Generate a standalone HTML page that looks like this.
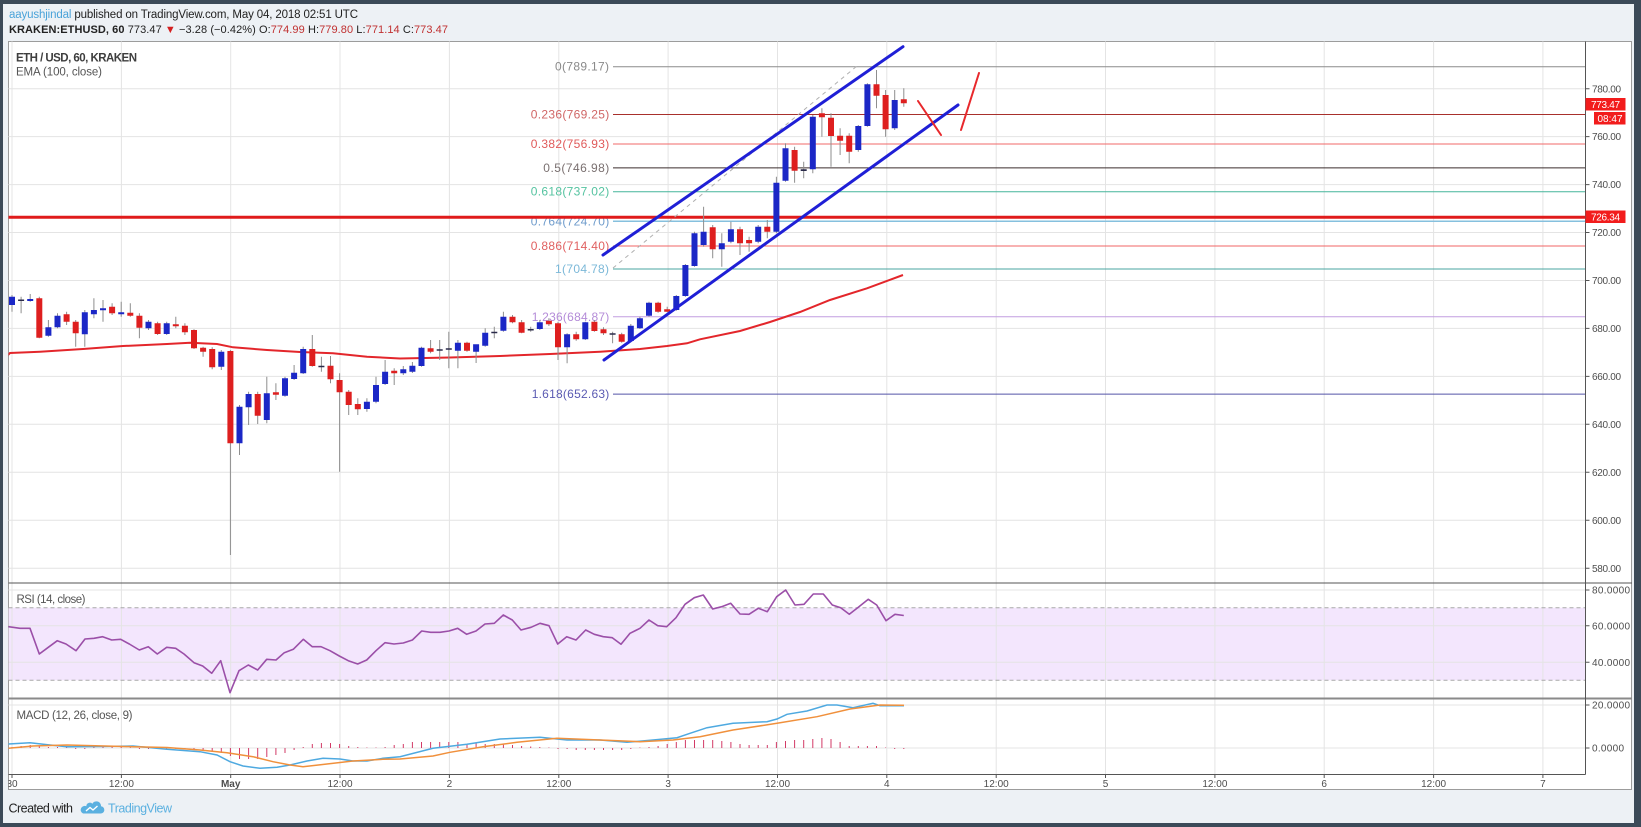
<!DOCTYPE html>
<html><head><meta charset="utf-8"><style>
html,body{margin:0;padding:0;background:#3c4a58;}
svg{display:block;}
text{font-family:"Liberation Sans","DejaVu Sans",sans-serif;}
</style></head><body>
<svg width="1641" height="827" viewBox="0 0 1641 827" xmlns="http://www.w3.org/2000/svg">
<defs>
<clipPath id="plot"><rect x="8.5" y="41.5" width="1576" height="541"/></clipPath>
<clipPath id="all"><rect x="8.5" y="41.5" width="1576" height="733"/></clipPath>
<clipPath id="taxis"><rect x="8.5" y="774" width="1576" height="16"/></clipPath>
</defs>
<rect x="0" y="0" width="1641" height="827" fill="#3c4a58"/>
<rect x="3" y="4" width="1631" height="819" fill="#edf1f5"/>
<rect x="8.5" y="41.5" width="1623" height="748" fill="#fff" stroke="#9c9c9c" stroke-width="1"/>

<!-- header -->
<text x="9" y="18" font-size="11.5" textLength="349" lengthAdjust="spacing"><tspan fill="#4ba3d9">aayushjindal</tspan><tspan fill="#222"> published on TradingView.com, May 04, 2018 02:51 UTC</tspan></text>
<text x="9" y="33" font-size="11" fill="#222" textLength="439" lengthAdjust="spacing"><tspan font-weight="bold">KRAKEN:ETHUSD, 60</tspan> 773.47 <tspan fill="#d42020">▼</tspan> −3.28 (−0.42%) O:<tspan fill="#c03030">774.99</tspan> H:<tspan fill="#c03030">779.80</tspan> L:<tspan fill="#c03030">771.14</tspan> C:<tspan fill="#c03030">773.47</tspan></text>

<!-- RSI band -->
<rect x="8.5" y="607.7" width="1576.5" height="72.6" fill="#f3e6fd"/>

<!-- vertical grid -->
<g stroke="#e4e4e4" stroke-width="1">
<path d="M12 41.5V774M121.4 41.5V774M230.7 41.5V774M340 41.5V774M449.4 41.5V774M558.8 41.5V774M668.1 41.5V774M777.5 41.5V774M886.8 41.5V774M996.2 41.5V774M1105.5 41.5V774M1214.9 41.5V774M1324.2 41.5V774M1433.6 41.5V774M1542.9 41.5V774"/>
<path d="M8.5 88.7H1585M8.5 136.6H1585M8.5 184.6H1585M8.5 232.5H1585M8.5 280.5H1585M8.5 328.4H1585M8.5 376.4H1585M8.5 424.3H1585M8.5 472.3H1585M8.5 520.2H1585M8.5 568.2H1585"/>
<path d="M8.5 590H1585M8.5 625.7H1585M8.5 662.3H1585M8.5 705H1585M8.5 748H1585"/>
</g>
<g stroke="#a8a8a8" stroke-width="1" stroke-dasharray="4 3">
<path d="M8.5 607.7H1585M8.5 680.3H1585"/>
</g>

<!-- fib lines -->
<g stroke-width="1">
<path d="M613 66.7H1585" stroke="#8c8c8c"/>
<path d="M613 114.5H1585" stroke="#a8302c"/>
<path d="M613 144H1585" stroke="#f26a6a"/>
<path d="M613 167.9H1585" stroke="#3b2d2d"/>
<path d="M613 191.7H1585" stroke="#46b59b"/>
<path d="M613 221.3H1585" stroke="#86c0de" stroke-width="1.5"/>
<path d="M613 246H1585" stroke="#f26464"/>
<path d="M613 269H1585" stroke="#4aa6a0"/>
<path d="M613 316.8H1585" stroke="#c29ee0"/>
<path d="M613 394.1H1585" stroke="#5353a8"/>
</g>
<g font-size="12">
<text x="555" y="70.7" fill="#8a8a8a" textLength="54" lengthAdjust="spacing">0(789.17)</text>
<text x="530.7" y="118.5" fill="#d06666" textLength="78.6" lengthAdjust="spacing">0.236(769.25)</text>
<text x="530.7" y="148" fill="#e05a5a" textLength="78.6" lengthAdjust="spacing">0.382(756.93)</text>
<text x="543.3" y="171.9" fill="#7a7070" textLength="66" lengthAdjust="spacing">0.5(746.98)</text>
<text x="530.7" y="195.7" fill="#55c3a0" textLength="78.6" lengthAdjust="spacing">0.618(737.02)</text>
<text x="530.7" y="225.3" fill="#6f9ccc" textLength="78.6" lengthAdjust="spacing">0.764(724.70)</text>
<text x="530.7" y="250" fill="#e06060" textLength="78.6" lengthAdjust="spacing">0.886(714.40)</text>
<text x="555" y="273" fill="#7bb8d8" textLength="54" lengthAdjust="spacing">1(704.78)</text>
<text x="531.7" y="320.8" fill="#b48bd8" textLength="77.6" lengthAdjust="spacing">1.236(684.87)</text>
<text x="531.7" y="398.1" fill="#5a5ab2" textLength="77.6" lengthAdjust="spacing">1.618(652.63)</text>
</g>

<!-- horizontal red support -->
<path d="M8.5 217.3H1585" stroke="#e01b1b" stroke-width="3"/>

<!-- dashed fib trend -->
<path d="M613 268L857 66" stroke="#b0b0b0" stroke-width="1" stroke-dasharray="4 4" fill="none"/>

<g clip-path="url(#plot)">
<polyline fill="none" stroke="#e3262b" stroke-width="2" points="8,355 10,353 40,351.7 83,349 123,346 167,344 190,342.7 217,344 233,347.3 267,350 300,352 333,353.3 367,356.7 400,358.5 450,357.5 500,356 550,354 600,351.7 640,349 667,346 687,343.3 700,339.3 740,331 770,322 800,312 830,300 867,288.3 903,275"/>
<path fill="none" stroke="#8e8e8e" stroke-width="1" d="M12 295V311.7M21.1 296.7V313.3M30.2 294V301.7M39.3 296.7V338.3M48.4 320V336.7M57.5 313.3V328.3M66.6 311.7V325M75.7 320V346.7M84.8 310V346.7M93.9 298.3V318.3M103 300V321.7M112.1 303.3V315M121.2 301.7V316.7M130.3 303.3V316.7M139.4 313.3V338.3M148.5 320V330M157.6 321.7V335M166.7 321.7V335M175.8 316.7V328.3M184.9 323.3V335M194 329.3V349M203.1 346.7V356.7M212.2 347.3V369.3M221.3 350V370M230.4 350V555M239.5 405V455M248.6 391.7V425M257.7 391.7V424M266.8 376.7V423.3M275.9 383.3V400M285 376.7V396.7M294.1 365V380M303.2 346.7V374M312.3 335V366.7M321.4 356.7V371.7M330.5 356V383.3M339.6 373.3V471.7M348.7 390V415M357.8 398.3V415M366.9 398.3V411.7M376 376.7V403.3M385.1 360V385M394.2 368.3V385M403.3 366V375M412.4 362V373M421.5 346.7V366.7M430.6 340V353.3M439.7 340V360M448.8 331.7V368.3M457.9 340V368.3M467 341.7V351.7M476.1 345V363M485.2 328.3V346.7M494.3 326.7V338.3M503.4 311.7V331.7M512.5 315V323.3M521.6 320V333.3M530.7 326.7V331.7M539.8 320V330M548.9 318.3V326M558 321.7V360M567.1 333.3V363.3M576.2 331.7V340.7M585.3 321.7V340M594.4 320V331.7M603.5 327.3V335M612.6 331.7V343.3M621.7 332.7V342.7M630.8 324V341.7M639.9 316.7V329M649 301.7V316.7M658.1 301.7V312.7M667.2 306.7V312.3M676.3 295V310.7M685.4 264V296.7M694.5 231.7V266.7M703.6 206.7V246.7M712.7 225V258.3M721.8 233.3V266.7M730.9 221.7V243.3M740 226.7V255M749.1 236.7V251.7M758.2 225V243.3M767.3 220V238.3M776.4 176.7V233.3M785.5 143.3V181.7M794.6 146.7V182.7M803.7 161.7V178.3M812.8 115V173.3M821.9 108.3V136.7M831 113.3V166.7M840.1 128.3V155M849.2 133.3V163.3M858.3 125V151.7M867.4 83.3V126.7M876.5 70V108.3M885.6 90V136.7M894.7 90V130M903.8 88.3V106.7"/>
<path fill="#de1f1f" d="M36.3 298.3h6v39.4h-6zM63.6 314.3h6v7.4h-6zM72.7 321.7h6v11.6h-6zM109.1 306.7h6v6.6h-6zM127.3 312.7h6v3h-6zM136.4 315.7h6v12h-6zM154.6 323.3h6v10.7h-6zM172.8 324.3h6v2h-6zM181.9 325.7h6v6.6h-6zM191 330h6v18.3h-6zM200.1 347.7h6v4h-6zM209.2 349h6v18.3h-6zM227.4 351h6v92.3h-6zM254.7 394h6v21.7h-6zM272.9 392.3h6v2.4h-6zM309.3 349h6v17h-6zM327.5 365.7h6v13.6h-6zM336.6 380h6v12.3h-6zM345.7 391.7h6v13.3h-6zM354.8 404h6v5.3h-6zM391.2 370.7h6v2.6h-6zM427.6 348.3h6v3.4h-6zM464 342.7h6v8h-6zM509.5 316.7h6v5.6h-6zM518.6 322.3h6v10.4h-6zM545.9 320.7h6v3.6h-6zM555 323.3h6v24h-6zM573.2 334.3h6v5h-6zM591.4 321.7h6v9.3h-6zM600.5 329.3h6v4h-6zM618.7 334.3h6v7.4h-6zM655.1 302.7h6v9h-6zM664.2 309.3h6v2.4h-6zM709.7 227.3h6v22h-6zM737 229.3h6v14h-6zM746.1 240h6v3.3h-6zM764.3 226.7h6v5h-6zM791.6 150h6v20.7h-6zM818.9 113.3h6v4h-6zM828 117.7h6v18.3h-6zM837.1 135.7h6v5h-6zM846.2 135.7h6v16h-6zM873.5 84.3h6v11.4h-6zM882.6 95h6v34.3h-6zM900.8 99.3h6v4h-6z"/>
<path fill="#1b27c6" d="M9 296.7h6v8.3h-6zM27.2 299h6v2h-6zM45.4 327.3h6v8.4h-6zM54.5 315.7h6v11.6h-6zM81.8 312.3h6v22h-6zM90.9 310h6v4.3h-6zM100 308.3h6v2h-6zM118.2 312.3h6v2h-6zM145.5 321.7h6v6.6h-6zM163.7 323.3h6v10.7h-6zM218.3 351.7h6v15h-6zM236.5 406.7h6v36.6h-6zM245.6 394h6v13.3h-6zM263.8 393.3h6v26.7h-6zM282 378.3h6v17.4h-6zM291.1 372.7h6v6.3h-6zM300.2 349h6v24.3h-6zM363.9 401.7h6v7.3h-6zM373 385h6v16.7h-6zM382.1 371.7h6v12.3h-6zM400.3 369.3h6v4h-6zM409.4 365.7h6v6h-6zM418.5 347.7h6v18.3h-6zM454.9 342.7h6v8h-6zM473.1 344.3h6v7.4h-6zM482.2 332.7h6v13h-6zM500.4 316.7h6v14h-6zM536.8 322.3h6v6.7h-6zM564.1 334.3h6v13h-6zM582.3 322.3h6v17h-6zM627.8 325.7h6v15.3h-6zM636.9 318.3h6v10h-6zM646 302.7h6v13h-6zM673.3 296h6v14h-6zM682.4 265h6v31h-6zM691.5 233.3h6v32.7h-6zM700.6 231.7h6v13.3h-6zM718.8 243.3h6v6h-6zM727.9 229.3h6v12.4h-6zM755.2 226.7h6v15h-6zM773.4 182.7h6v49h-6zM782.5 148.3h6v32.4h-6zM809.8 116.7h6v52.6h-6zM855.3 126h6v24h-6zM864.4 84.3h6v41.7h-6zM891.7 100h6v28.3h-6z"/>
<path fill="#2a2a4a" d="M18.1 299.5h6v1.5h-6zM318.4 365.7h6v1.5h-6zM436.7 349.3h6v1.5h-6zM445.8 348.2h6v1.5h-6zM491.3 331.7h6v1.5h-6zM527.7 329h6v1.5h-6zM609.6 333.3h6v1.5h-6zM800.7 169.3h6v1.7h-6z"/>
</g>

<!-- channel -->
<g stroke="#1f1fd6" stroke-width="3" stroke-linecap="round">
<path d="M603 255L903 46.7"/>
<path d="M604 360L958 105"/>
</g>
<g stroke="#e8282c" stroke-width="2" stroke-linecap="round">
<path d="M918 101L941 135"/>
<path d="M961 130L979 73"/>
</g>

<text x="16" y="61.5" font-size="11.5" font-weight="bold" fill="#3e3e3e" textLength="121" lengthAdjust="spacing">ETH / USD, 60, KRAKEN</text>
<text x="16" y="75.5" font-size="11.5" fill="#555" textLength="86" lengthAdjust="spacing">EMA (100, close)</text>

<g clip-path="url(#all)">
<polyline fill="none" stroke="#9b4fa8" stroke-width="1.6" stroke-linejoin="round" points="8.3,626.7 20,628.3 30,628.3 39.3,654 48.3,647.3 57.3,640.7 66,644 76,650.7 85,639 94,638.3 102.7,636.7 111.7,640 120.7,639.3 129.3,644 139.3,650 148.3,646.7 157.3,654 166.7,647.3 175.7,648.3 184,654 194,662.7 202.7,666 211.7,673.3 220.7,660.7 230,692.7 239,670.7 248.3,665 257.7,670 266.7,659.3 276,660 284.3,652.7 293.3,649.3 303.3,639.3 312.3,646.7 321,646.7 330,650.7 339.3,656 348.3,660.7 357.7,664 366.7,660 376,650.7 385,642.7 394,644 403.3,643 412.4,640 421.7,631 430.7,632.3 440,632.3 449,631 457.7,628.3 466.7,634.3 476,631 485,624 494.3,623.3 503.3,615 512.3,620 521,630 531,627.3 540,623.3 549,625.7 557.7,644 566.7,636.7 576,640 585.7,630 594.3,634.3 603.3,636.7 612.3,637.7 621,644.3 630,633.3 640,628.3 649,620 657.7,625.7 666.7,626.7 676,617.7 685,604.3 694.3,597.7 703.3,595 712.7,609 721.7,606.7 730.7,603.3 740,614 749,614.3 758.3,608.3 767.3,611.7 776.7,596.7 785.7,590 795,605 804,604.3 813.3,594 823.3,594 832.3,605 840.7,607.7 849.3,614.3 858.3,607.3 868.3,599.3 876.7,605 886,620.7 895,614.3 903.8,615.5"/>
<path fill="none" stroke="#d23a66" stroke-width="1" d="M12 748V747M21.1 748V746M30.2 748V745M39.3 748V746M48.4 748V747M57.5 748V747M66.6 748V747M75.7 748V749M84.8 748V749M93.9 748V747M103 748V747M112.1 748V747M121.2 748V747M130.3 748V747.5M139.4 748V749M148.5 748V749M157.6 748V749M166.7 748V749M175.8 748V749M184.9 748V749M194 748V750M203.1 748V751M212.2 748V752M221.3 748V753M230.4 748V756M239.5 748V759M248.6 748V759M257.7 748V759M266.8 748V757M275.9 748V755M285 748V753M294.1 748V750M303.2 748V747M312.3 748V744M321.4 748V743M330.5 748V743M339.6 748V744M348.7 748V746M357.8 748V747M366.9 748V747.5M376 748V747.5M385.1 748V747M394.2 748V745M403.3 748V744M412.4 748V742M421.5 748V742M430.6 748V742M439.7 748V742M448.8 748V742M457.9 748V742M467 748V744M476.1 748V743M485.2 748V744M494.3 748V744M503.4 748V744M512.5 748V745M521.6 748V746M530.7 748V746.5M539.8 748V747M548.9 748V747.5M558 748V749M567.1 748V749M576.2 748V750M585.3 748V750M594.4 748V750M603.5 748V750M612.6 748V750M621.7 748V750M630.8 748V749M639.9 748V747.5M649 748V747M658.1 748V746M667.2 748V744M676.3 748V742M685.4 748V740M694.5 748V740M703.6 748V740M712.7 748V740M721.8 748V741M730.9 748V742M740 748V744M749.1 748V745M758.2 748V745M767.3 748V745M776.4 748V742M785.5 748V741M794.6 748V740M803.7 748V740M812.8 748V739M821.9 748V738M831 748V739M840.1 748V742M849.2 748V746M858.3 748V746M867.4 748V746M876.5 748V746M885.6 748V747.5M894.7 748V749M903.8 748V749"/>
<polyline fill="none" stroke="#4ea9e0" stroke-width="1.5" points="8,744 30,742.7 50,745 67,746.7 100,746.5 133,746 167,749.3 200,751.7 217,755 230,761.7 243,766 260,768.3 277,767.3 290,765 307,761 323,758.3 340,759 353,761 367,761 383,758.3 400,756.7 433,748.3 467,744.3 500,739 540,737.3 567,740 600,740 627,742.3 653,740 677,737.7 690,733.3 707,727.7 733,723.3 767,721.7 777,719 787,714.3 807,711 827,705 837,705 853,707.7 873,703.3 880,705.7 904,705.7"/>
<polyline fill="none" stroke="#f0903c" stroke-width="1.5" points="8,748.3 33,746 67,745 133,746.7 167,747.5 200,750 227,752.7 253,756.7 273,761.7 290,765 303,766.7 327,764 353,761 383,759.3 400,759 433,756 450,752.3 483,746.7 517,742.3 557,738.3 600,740 640,741.7 673,740 700,736.7 733,730 777,723.3 817,716.7 850,709 880,705 904,705.3"/>
</g>

<text x="16.5" y="603" font-size="11.5" fill="#555" textLength="69" lengthAdjust="spacing">RSI (14, close)</text>
<text x="16.5" y="719" font-size="11.5" fill="#555" textLength="116" lengthAdjust="spacing">MACD (12, 26, close, 9)</text>

<path d="M8.5 583H1632" stroke="#555" stroke-width="1"/>
<path d="M8.5 698.5H1632" stroke="#8a8a8a" stroke-width="2"/>
<path d="M8.5 774.5H1585.5" stroke="#555" stroke-width="1"/>
<path d="M1585.5 41.5V774.5" stroke="#555" stroke-width="1"/>

<path stroke="#555" stroke-width="1" d="M1585.5 88.7h4M1585.5 136.6h4M1585.5 184.6h4M1585.5 232.5h4M1585.5 280.5h4M1585.5 328.4h4M1585.5 376.4h4M1585.5 424.3h4M1585.5 472.3h4M1585.5 520.2h4M1585.5 568.2h4M1585.5 590h4M1585.5 625.7h4M1585.5 662.3h4M1585.5 705h4M1585.5 748h4"/>
<g font-size="10" fill="#4d4d4d">
<text x="1592" y="92.3" textLength="29" lengthAdjust="spacing">780.00</text>
<text x="1592" y="140.2" textLength="29" lengthAdjust="spacing">760.00</text>
<text x="1592" y="188.2" textLength="29" lengthAdjust="spacing">740.00</text>
<text x="1592" y="236.1" textLength="29" lengthAdjust="spacing">720.00</text>
<text x="1592" y="284.1" textLength="29" lengthAdjust="spacing">700.00</text>
<text x="1592" y="332" textLength="29" lengthAdjust="spacing">680.00</text>
<text x="1592" y="380" textLength="29" lengthAdjust="spacing">660.00</text>
<text x="1592" y="427.9" textLength="29" lengthAdjust="spacing">640.00</text>
<text x="1592" y="475.9" textLength="29" lengthAdjust="spacing">620.00</text>
<text x="1592" y="523.8" textLength="29" lengthAdjust="spacing">600.00</text>
<text x="1592" y="571.8" textLength="29" lengthAdjust="spacing">580.00</text>
<text x="1592" y="593.6" textLength="38" lengthAdjust="spacing">80.0000</text>
<text x="1592" y="629.3" textLength="38" lengthAdjust="spacing">60.0000</text>
<text x="1592" y="665.9" textLength="38" lengthAdjust="spacing">40.0000</text>
<text x="1592" y="708.6" textLength="38" lengthAdjust="spacing">20.0000</text>
<text x="1592" y="751.6" textLength="32" lengthAdjust="spacing">0.0000</text>
</g>

<rect x="1585.5" y="98" width="40" height="12.5" fill="#f21c1c"/>
<text x="1591" y="107.8" font-size="10" fill="#fff" textLength="29" lengthAdjust="spacing">773.47</text>
<rect x="1594" y="112" width="31.5" height="12.5" fill="#f21c1c"/>
<text x="1597.5" y="121.8" font-size="10" fill="#fff" textLength="25" lengthAdjust="spacing">08:47</text>
<rect x="1585.5" y="210.5" width="40" height="12.5" fill="#f21c1c"/>
<text x="1591" y="220.3" font-size="10" fill="#fff" textLength="29" lengthAdjust="spacing">726.34</text>

<path stroke="#555" stroke-width="1" d="M12 774.5v3.5M121.4 774.5v3.5M230.7 774.5v3.5M340 774.5v3.5M449.4 774.5v3.5M558.8 774.5v3.5M668.1 774.5v3.5M777.5 774.5v3.5M886.8 774.5v3.5M996.2 774.5v3.5M1105.5 774.5v3.5M1214.9 774.5v3.5M1324.2 774.5v3.5M1433.6 774.5v3.5M1542.9 774.5v3.5"/>
<g font-size="10" fill="#4d4d4d" text-anchor="middle">
<g clip-path="url(#taxis)"><text x="12" y="787">30</text></g>
<text x="121.4" y="787">12:00</text>
<text x="230.7" y="787" font-weight="bold">May</text>
<text x="340" y="787">12:00</text>
<text x="449.4" y="787">2</text>
<text x="558.8" y="787">12:00</text>
<text x="668.1" y="787">3</text>
<text x="777.5" y="787">12:00</text>
<text x="886.8" y="787">4</text>
<text x="996.2" y="787">12:00</text>
<text x="1105.5" y="787">5</text>
<text x="1214.9" y="787">12:00</text>
<text x="1324.2" y="787">6</text>
<text x="1433.6" y="787">12:00</text>
<text x="1542.9" y="787">7</text>
</g>

<text x="8.5" y="812.5" font-size="12.5" fill="#222" textLength="64.5" lengthAdjust="spacing">Created with</text>
<path d="M83 813.5h17.5a3.6 3.6 0 0 0 0.5-7.2a4.6 4.6 0 0 0-8.6-2.6a3.6 3.6 0 0 0-6.1 2.6a3.6 3.6 0 0 0-3.3 7.2z" fill="#5ab0e0"/>
<path d="M86 811l4-3.5l3 2.5l4.5-4" stroke="#fff" stroke-width="1.4" fill="none"/>
<text x="108" y="812.5" font-size="12.5" fill="#5ab0e0" textLength="64" lengthAdjust="spacing">TradingView</text>
</svg>
</body></html>
